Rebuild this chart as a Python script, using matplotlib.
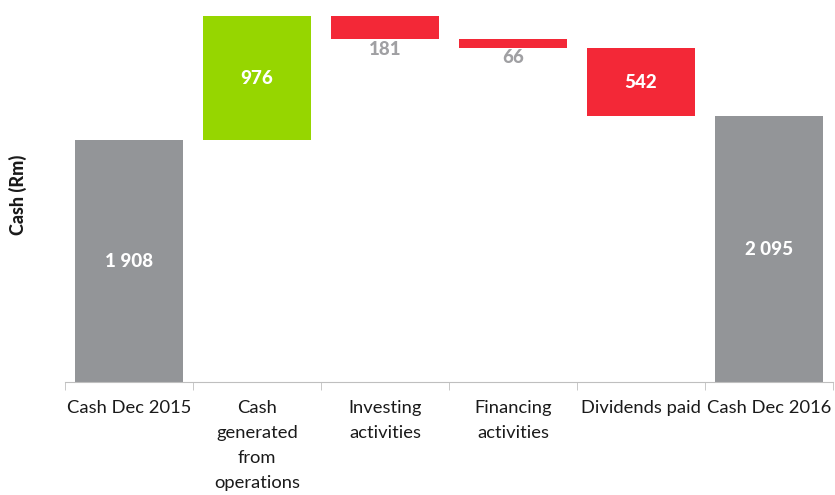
import matplotlib
matplotlib.use("Agg")
import matplotlib.pyplot as plt
import numpy as np

categories = ["Cash Dec 2015", "Cash\ngenerated\nfrom\noperations", "Investing\nactivities",
              "Financing\nactivities", "Dividends paid", "Cash Dec 2016"]
values = [1908, 976, -181, -66, -542, 2095]
kinds = ["total", "delta", "delta", "delta", "delta", "total"]
labels = ["1 908", "976", "181", "66", "542", "2 095"]

GRAY = "#939598"
GREEN = "#96D600"
RED = "#F32837"
LABEL_GRAY = "#A0A0A3"

plt.rcParams['font.family'] = ['Lato', 'DejaVu Sans']

fig = plt.figure(figsize=(8.35, 4.95), dpi=100)
ax = fig.add_axes([65/835, 113/495, 768/835, 382/495])

x = np.arange(len(categories))
running = 0
bottoms, heights, colors = [], [], []
for v, k in zip(values, kinds):
    if k == "total":
        bottoms.append(0); heights.append(v); colors.append(GRAY)
        running = v
    else:
        if v >= 0:
            bottoms.append(running); heights.append(v); colors.append(GREEN)
        else:
            bottoms.append(running + v); heights.append(-v); colors.append(RED)
        running += v

ax.bar(x, heights, bottom=bottoms, width=0.836, color=colors, linewidth=0)

for i in range(len(x)):
    b, h = bottoms[i], heights[i]
    if h >= 300:
        ax.text(x[i], b + h / 2, labels[i], ha="center", va="center",
                color="white", fontsize=13.5, fontweight="black")
    else:
        ax.annotate(labels[i], (x[i], b), xytext=(0, -1), textcoords="offset points",
                    ha="center", va="top", color=LABEL_GRAY, fontsize=13.5, fontweight="black")

ax.set_xlim(-0.5, len(categories) - 0.5)
ax.set_ylim(0, 3013)

for s in ["top", "right", "left"]:
    ax.spines[s].set_visible(False)
ax.spines["bottom"].set_color("#BFBFBF")
ax.set_yticks([])
ax.set_xticks(x)
ax.set_xticklabels(categories, fontsize=13.2, color="#1a1a1a", linespacing=1.68)
ax.tick_params(axis="x", which="major", length=0, pad=13)
ax.set_xticks(np.arange(-0.5, len(categories) + 0.5, 1), minor=True)
ax.tick_params(axis="x", which="minor", length=6, color="#BFBFBF", direction="out")

fig.text(18/835, 1 - 195/495, "Cash (Rm)", rotation=90, ha="center", va="center",
         fontsize=13, fontweight="black", color="#1a1a1a")

fig.savefig("out.png", dpi=100)
